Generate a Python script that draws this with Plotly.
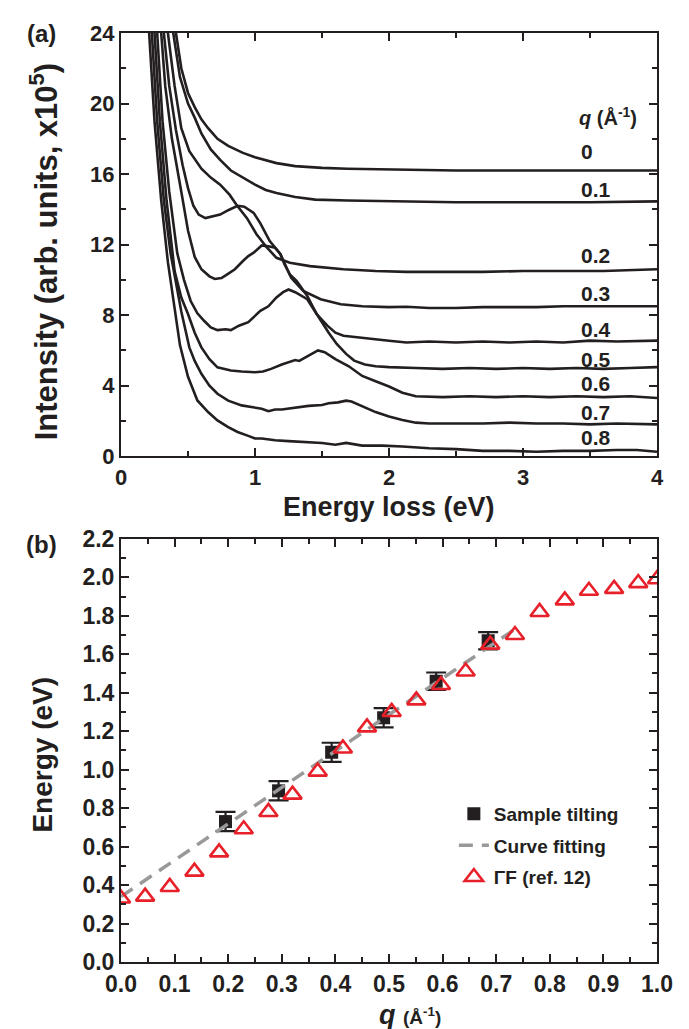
import plotly.graph_objects as go

# ---------------- Panel (a): EELS spectra ----------------
q_labels = ["0", "0.1", "0.2", "0.3", "0.4", "0.5", "0.6", "0.7", "0.8"]
label_y = [17.3, 15.1, 11.4, 9.2, 7.2, 5.5, 4.1, 2.5, 1.07]

e_q0 = [0.40, 0.41, 0.45, 0.50, 0.55, 0.60, 0.65, 0.72, 0.80, 0.91, 1.00, 1.16, 1.30, 1.50, 1.69, 2.00, 2.50, 3.00, 3.50, 4.00]
i_q0 = [25, 24, 22.0, 20.6, 19.8, 19.1, 18.6, 18.0, 17.6, 17.2, 16.95, 16.62, 16.45, 16.35, 16.3, 16.25, 16.2, 16.2, 16.2, 16.2]

e_q1 = [0.38, 0.39, 0.44, 0.50, 0.55, 0.60, 0.67, 0.74, 0.82, 0.91, 1.00, 1.08, 1.16, 1.30, 1.45, 1.69, 2.00, 2.50, 3.00, 3.50, 4.00]
i_q1 = [25, 24, 21.5, 20.0, 19.2, 18.3, 17.4, 16.8, 16.2, 15.8, 15.4, 15.1, 14.92, 14.7, 14.55, 14.5, 14.45, 14.4, 14.4, 14.4, 14.45]

e_q2 = [0.34, 0.35, 0.40, 0.45, 0.51, 0.60, 0.67, 0.74, 0.81, 0.86, 0.94, 1.01, 1.09, 1.16, 1.26, 1.41, 1.66, 1.90, 2.13, 2.40, 2.70, 3.00, 3.30, 3.60, 4.00]
i_q2 = [25, 24, 21.0, 18.6, 17.3, 16.3, 15.8, 15.4, 14.83, 14.27, 13.5, 12.6, 11.82, 11.25, 10.97, 10.78, 10.6, 10.5, 10.45, 10.45, 10.45, 10.5, 10.5, 10.5, 10.6]

e_q3 = [0.31, 0.32, 0.36, 0.41, 0.46, 0.50, 0.54, 0.58, 0.63, 0.68, 0.74, 0.80, 0.87, 0.92, 0.99, 1.04, 1.11, 1.19, 1.27, 1.36, 1.49, 1.64, 1.80, 2.00, 2.13, 2.30, 2.50, 2.70, 2.90, 3.10, 3.30, 3.50, 3.70, 4.00]
i_q3 = [25, 24, 21.0, 18.5, 16.5, 15.2, 14.2, 13.7, 13.5, 13.6, 13.7, 13.95, 14.2, 14.15, 13.8, 13.2, 12.2, 11.45, 10.12, 9.37, 8.9, 8.62, 8.5, 8.45, 8.47, 8.4, 8.4, 8.45, 8.45, 8.45, 8.5, 8.5, 8.5, 8.5]

e_q4 = [0.29, 0.30, 0.33, 0.38, 0.42, 0.45, 0.50, 0.55, 0.60, 0.66, 0.70, 0.75, 0.79, 0.85, 0.91, 0.95, 0.99, 1.05, 1.10, 1.15, 1.19, 1.22, 1.26, 1.31, 1.39, 1.46, 1.54, 1.60, 1.66, 1.75, 1.84, 2.00, 2.13, 2.30, 2.50, 2.70, 2.90, 3.10, 3.30, 3.50, 3.70, 4.00]
i_q4 = [25, 24, 21.0, 18.0, 16.4, 15.0, 12.8, 11.3, 10.6, 10.2, 10.05, 10.1, 10.3, 10.6, 11.07, 11.35, 11.54, 11.95, 11.9, 11.82, 11.45, 10.88, 10.3, 9.94, 9.09, 8.06, 7.4, 7.0, 6.83, 6.75, 6.65, 6.55, 6.45, 6.5, 6.45, 6.5, 6.45, 6.5, 6.45, 6.55, 6.5, 6.55]

e_q5 = [0.26, 0.27, 0.31, 0.36, 0.42, 0.47, 0.52, 0.57, 0.62, 0.67, 0.72, 0.78, 0.82, 0.88, 0.95, 1.04, 1.10, 1.16, 1.21, 1.25, 1.30, 1.39, 1.44, 1.49, 1.55, 1.61, 1.68, 1.74, 1.82, 1.90, 2.00, 2.20, 2.40, 2.60, 2.80, 3.00, 3.20, 3.40, 3.60, 3.80, 4.00]
i_q5 = [25, 24, 19.0, 15.0, 11.5, 10.0, 8.8, 8.1, 7.68, 7.3, 7.15, 7.2, 7.15, 7.4, 7.6, 8.24, 8.5, 9.0, 9.3, 9.45, 9.3, 8.9, 8.3, 7.68, 7.0, 6.36, 5.8, 5.42, 5.2, 5.1, 5.05, 5.0, 4.95, 5.0, 4.95, 5.0, 4.95, 5.0, 4.95, 5.0, 5.05]

e_q6 = [0.24, 0.25, 0.29, 0.34, 0.40, 0.45, 0.50, 0.55, 0.60, 0.66, 0.72, 0.82, 0.90, 1.00, 1.06, 1.12, 1.20, 1.25, 1.30, 1.33, 1.40, 1.47, 1.52, 1.60, 1.70, 1.80, 1.90, 2.00, 2.10, 2.20, 2.40, 2.60, 2.80, 3.00, 3.20, 3.40, 3.60, 3.80, 4.00]
i_q6 = [25, 24, 19.0, 14.5, 10.5, 9.0, 8.06, 7.0, 6.17, 5.5, 5.04, 4.86, 4.8, 4.76, 4.8, 4.95, 5.2, 5.32, 5.45, 5.4, 5.7, 6.0, 5.9, 5.5, 5.1, 4.55, 4.25, 3.95, 3.6, 3.4, 3.35, 3.4, 3.35, 3.4, 3.35, 3.4, 3.35, 3.4, 3.3]

e_q7 = [0.22, 0.23, 0.27, 0.32, 0.37, 0.41, 0.45, 0.51, 0.55, 0.60, 0.66, 0.72, 0.80, 0.90, 1.00, 1.05, 1.10, 1.15, 1.20, 1.30, 1.40, 1.50, 1.55, 1.62, 1.68, 1.72, 1.80, 1.90, 2.00, 2.10, 2.20, 2.30, 2.50, 2.70, 2.90, 3.10, 3.30, 3.50, 3.70, 4.00]
i_q7 = [25, 24, 19.0, 14.5, 11.5, 9.9, 8.2, 6.17, 5.4, 4.67, 4.0, 3.54, 3.15, 2.88, 2.75, 2.69, 2.55, 2.65, 2.65, 2.75, 2.85, 2.9, 3.0, 3.05, 3.15, 3.1, 2.85, 2.5, 2.25, 2.05, 1.9, 1.85, 1.85, 1.85, 1.9, 1.85, 1.85, 1.8, 1.85, 1.8]

e_q8 = [0.20, 0.21, 0.25, 0.30, 0.35, 0.37, 0.40, 0.44, 0.50, 0.57, 0.65, 0.72, 0.80, 0.87, 0.95, 1.00, 1.05, 1.15, 1.25, 1.35, 1.50, 1.60, 1.68, 1.80, 1.95, 2.10, 2.30, 2.50, 2.70, 2.90, 3.10, 3.30, 3.50, 3.70, 3.85, 4.00]
i_q8 = [25, 24, 19.0, 14.5, 11.0, 9.9, 8.3, 6.3, 4.5, 3.16, 2.5, 2.03, 1.65, 1.37, 1.15, 1.0, 1.0, 0.9, 0.85, 0.8, 0.75, 0.65, 0.75, 0.6, 0.6, 0.55, 0.45, 0.4, 0.3, 0.3, 0.25, 0.3, 0.3, 0.35, 0.35, 0.25]

spectra_e = [e_q0, e_q1, e_q2, e_q3, e_q4, e_q5, e_q6, e_q7, e_q8]
spectra_i = [i_q0, i_q1, i_q2, i_q3, i_q4, i_q5, i_q6, i_q7, i_q8]

# ---------------- Panel (b): dispersion ----------------
q_tilt = [0.195, 0.294, 0.393, 0.490, 0.588, 0.685]
E_tilt = [0.73, 0.89, 1.09, 1.27, 1.46, 1.67]
E_err = [0.05, 0.05, 0.05, 0.05, 0.045, 0.045]

q_fit = [0.0, 0.74]
E_fit = [0.34, 1.74]

q_ref = [0.0, 0.045, 0.091, 0.137, 0.183, 0.229, 0.275, 0.320, 0.367, 0.414, 0.459, 0.505,
         0.551, 0.597, 0.643, 0.689, 0.735, 0.781, 0.828, 0.873, 0.920, 0.965, 1.0]
E_ref = [0.33, 0.34, 0.39, 0.47, 0.57, 0.69, 0.78, 0.87, 0.99, 1.11, 1.22, 1.30,
         1.36, 1.44, 1.51, 1.65, 1.70, 1.82, 1.88, 1.93, 1.94, 1.97, 1.99]

FONT = "Liberation Sans, Arial, sans-serif"
INK = "#231f20"
RED = "#e8202a"

fig = go.Figure()

for e, i in zip(spectra_e, spectra_i):
    fig.add_trace(go.Scatter(x=e, y=i, mode="lines", line=dict(color=INK, width=2.6),
                             showlegend=False, xaxis="x", yaxis="y"))

fig.add_trace(go.Scatter(x=q_tilt, y=E_tilt, mode="markers", name="Sample tilting",
                         marker=dict(symbol="square", size=13, color=INK),
                         error_y=dict(type="data", array=E_err, color=INK, thickness=2.2, width=10),
                         xaxis="x2", yaxis="y2", legendgroup="a"))
fig.add_trace(go.Scatter(x=q_fit, y=E_fit, mode="lines", name="Curve fitting",
                         line=dict(color="#999999", width=3.5, dash="14px,9px"),
                         xaxis="x2", yaxis="y2", legendgroup="b"))
fig.add_trace(go.Scatter(x=q_ref, y=E_ref, mode="markers", name="ΓF (ref. 12)",
                         marker=dict(symbol="triangle-up-open", size=16, color=RED,
                                     line=dict(color=RED, width=2.6)),
                         xaxis="x2", yaxis="y2", legendgroup="c"))

def axis_style(size):
    return dict(showline=True, linewidth=2, linecolor=INK, mirror="allticks",
                ticks="inside", ticklen=8, tickwidth=2, tickcolor=INK,
                showgrid=False, zeroline=False,
                tickfont=dict(family=FONT, size=size, color=INK, weight="bold"))

for label, y in zip(q_labels, label_y):
    fig.add_annotation(x=3.42, y=y, xref="x", yref="y", text="<b>" + label + "</b>",
                       showarrow=False, xanchor="left", yanchor="middle",
                       font=dict(family=FONT, size=21, color=INK))
fig.add_annotation(x=3.40, y=19.25, xref="x", yref="y",
                   text="<b><i>q</i> (Å<sup>-1</sup>)</b>",
                   showarrow=False, xanchor="left", yanchor="middle",
                   font=dict(family=FONT, size=20, color=INK))

# panel letters
fig.add_annotation(x=-0.148, y=1.0, xref="paper", yref="paper", text="<b>(a)</b>",
                   showarrow=False, xanchor="center", yanchor="middle",
                   font=dict(family=FONT, size=24, color=INK))
fig.add_annotation(x=-0.148, y=0.449, xref="paper", yref="paper", text="<b>(b)</b>",
                   showarrow=False, xanchor="center", yanchor="middle",
                   font=dict(family=FONT, size=24, color=INK))

# axis titles
fig.add_annotation(x=-0.1437, y=0.765, xref="paper", yref="paper",
                   text="<b>Intensity (arb. units, x10<sup>5</sup>)</b>", textangle=-90,
                   showarrow=False, xanchor="center", yanchor="middle",
                   font=dict(family=FONT, size=31, color=INK))
fig.add_annotation(x=0.5, y=0.4898, xref="paper", yref="paper",
                   text="<b>Energy loss (eV)</b>",
                   showarrow=False, xanchor="center", yanchor="middle",
                   font=dict(family=FONT, size=27, color=INK))
fig.add_annotation(x=-0.146, y=0.223, xref="paper", yref="paper",
                   text="<b>Energy (eV)</b>", textangle=-90,
                   showarrow=False, xanchor="center", yanchor="middle",
                   font=dict(family=FONT, size=28, color=INK))
fig.add_annotation(x=0.54, y=-0.0575, xref="paper", yref="paper",
                   text="<b><i>q</i></b> <b><span style='font-size:19px'>(Å<sup>-1</sup>)</span></b>",
                   showarrow=False, xanchor="center", yanchor="middle",
                   font=dict(family=FONT, size=27, color=INK))

fig.update_layout(
    width=689, height=1029,
    margin=dict(l=113, r=40, t=21, b=75),
    paper_bgcolor="white", plot_bgcolor="white",
    font=dict(family=FONT, color=INK),
    xaxis=dict(domain=[0, 1], anchor="y", range=[0, 4], dtick=1,
               minor=dict(dtick=0.5, ticks="inside", ticklen=5, tickwidth=1.5, tickcolor=INK),
               **axis_style(22)),
    yaxis=dict(domain=[0.5445, 1], anchor="x", range=[0, 24], dtick=4,
               minor=dict(dtick=2, ticks="inside", ticklen=5, tickwidth=1.5, tickcolor=INK),
               **axis_style(22)),
    xaxis2=dict(domain=[0, 1], anchor="y2", range=[0, 1], dtick=0.1, tickformat=".1f",
                minor=dict(dtick=0.05, ticks="inside", ticklen=5, tickwidth=1.5, tickcolor=INK),
                **axis_style(23)),
    yaxis2=dict(domain=[0, 0.4555], anchor="x2", range=[0, 2.2], dtick=0.2, tickformat=".1f",
                minor=dict(dtick=0.1, ticks="inside", ticklen=5, tickwidth=1.5, tickcolor=INK),
                **axis_style(23)),
    legend=dict(x=0.621, y=0.18, xanchor="left", yanchor="top",
                bgcolor="rgba(0,0,0,0)", borderwidth=0, tracegroupgap=4,
                font=dict(family=FONT, size=19, color=INK, weight="bold"),
                itemwidth=30),
)

fig.write_html("out.html")
